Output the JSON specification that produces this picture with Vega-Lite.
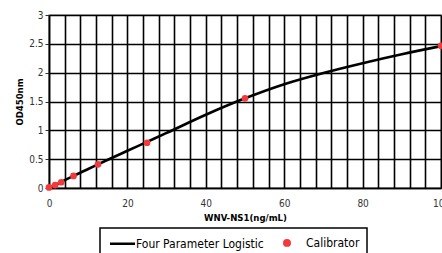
{
  "$schema": "https://vega.github.io/schema/vega-lite/v6.json",
  "width": 392,
  "height": 173,
  "autosize": "none",
  "padding": {"left": 49, "top": 15, "right": 1, "bottom": 65},
  "background": "white",
  "config": {
    "view": {"stroke": "#a0a0a0", "strokeWidth": 1.5},
    "font": "DejaVu Sans Condensed"
  },
  "data": {
    "values": [
      {"series": "Four Parameter Logistic", "conc": 0, "od": 0.0},
      {"series": "Four Parameter Logistic", "conc": 1.5625, "od": 0.05},
      {"series": "Four Parameter Logistic", "conc": 3.125, "od": 0.105},
      {"series": "Four Parameter Logistic", "conc": 6.25, "od": 0.21},
      {"series": "Four Parameter Logistic", "conc": 10, "od": 0.33},
      {"series": "Four Parameter Logistic", "conc": 15, "od": 0.49},
      {"series": "Four Parameter Logistic", "conc": 20, "od": 0.645},
      {"series": "Four Parameter Logistic", "conc": 25, "od": 0.8},
      {"series": "Four Parameter Logistic", "conc": 30, "od": 0.955},
      {"series": "Four Parameter Logistic", "conc": 40, "od": 1.27},
      {"series": "Four Parameter Logistic", "conc": 50, "od": 1.555},
      {"series": "Four Parameter Logistic", "conc": 60, "od": 1.8},
      {"series": "Four Parameter Logistic", "conc": 70, "od": 1.995},
      {"series": "Four Parameter Logistic", "conc": 80, "od": 2.165},
      {"series": "Four Parameter Logistic", "conc": 90, "od": 2.32},
      {"series": "Four Parameter Logistic", "conc": 100, "od": 2.46},
      {"series": "Calibrator", "conc": 0, "od": 0.01},
      {"series": "Calibrator", "conc": 1.5625, "od": 0.05},
      {"series": "Calibrator", "conc": 3.125, "od": 0.1},
      {"series": "Calibrator", "conc": 6.25, "od": 0.21},
      {"series": "Calibrator", "conc": 12.5, "od": 0.41},
      {"series": "Calibrator", "conc": 25, "od": 0.785},
      {"series": "Calibrator", "conc": 50, "od": 1.555},
      {"series": "Calibrator", "conc": 100, "od": 2.465}
    ]
  },
  "encoding": {
    "x": {
      "field": "conc",
      "type": "quantitative",
      "scale": {"domain": [0, 100], "nice": false},
      "axis": {
        "values": [0,4,8,12,16,20,24,28,32,36,40,44,48,52,56,60,64,68,72,76,80,84,88,92,96,100],
        "labelExpr": "datum.value % 20 === 0 ? datum.label : ''",
        "grid": true,
        "gridColor": "black",
        "gridWidth": 1.6,
        "gridOpacity": 1,
        "domainColor": "black",
        "domainWidth": 1.5,
        "ticks": false,
        "labelPadding": 10,
        "labelFontSize": 10,
        "labelColor": "#333",
        "labelFlush": false,
        "title": "WNV-NS1(ng/mL)",
        "titleFontSize": 9.5,
        "titleFontWeight": "bold",
        "titleColor": "black",
        "titlePadding": 4
      }
    },
    "y": {
      "field": "od",
      "type": "quantitative",
      "scale": {"domain": [0, 3], "nice": false},
      "axis": {
        "values": [0, 0.5, 1, 1.5, 2, 2.5, 3],
        "format": "~g",
        "grid": true,
        "gridColor": "black",
        "gridWidth": 1.6,
        "gridOpacity": 1,
        "domainColor": "black",
        "domainWidth": 1.5,
        "tickColor": "#333",
        "tickSize": 4,
        "labelPadding": 2,
        "labelFontSize": 10,
        "labelColor": "#333",
        "labelFlush": false,
        "title": "OD450nm",
        "titleFontSize": 9.5,
        "titleFontWeight": "bold",
        "titleColor": "black",
        "titlePadding": 4
      }
    },
    "color": {
      "field": "series",
      "type": "nominal",
      "scale": {"domain": ["Four Parameter Logistic", "Calibrator"], "range": ["black", "#f23a3a"]},
      "legend": {
        "title": null,
        "orient": "none",
        "legendX": 51,
        "legendY": 213,
        "direction": "horizontal",
        "strokeColor": "black",
        "padding": 7,
        "labelFontSize": 12,
        "labelColor": "black",
        "labelFont": "DejaVu Sans Condensed",
        "labelOffset": 14,
        "symbolOffset": 0,
        "columnPadding": 13,
        "symbolSize": 156,
        "symbolStrokeWidth": 2.5,
        "encode": {
          "legend": {"update": {"strokeWidth": {"value": 1.5}}},
          "symbols": {
            "update": {
              "shape": {"signal": "datum.value === 'Calibrator' ? 'circle' : 'M-2,0H2'"},
              "size": {"signal": "datum.value === 'Calibrator' ? 30 : 156"},
              "x": {"signal": "datum.value === 'Calibrator' ? 10 : 15.5"},
              "fill": {"signal": "datum.value === 'Calibrator' ? '#f23a3a' : 'transparent'"},
              "stroke": {"signal": "datum.value === 'Calibrator' ? 'transparent' : 'black'"},
              "strokeWidth": {"value": 2.5},
              "opacity": {"value": 1}
            }
          }
        }
      }
    }
  },
  "layer": [
    {
      "transform": [{"filter": "datum.series === 'Four Parameter Logistic'"}],
      "mark": {"type": "line", "strokeWidth": 2.6, "interpolate": "monotone"}
    },
    {
      "transform": [{"filter": "datum.series === 'Calibrator'"}],
      "mark": {"type": "circle", "size": 45, "opacity": 1}
    }
  ]
}
